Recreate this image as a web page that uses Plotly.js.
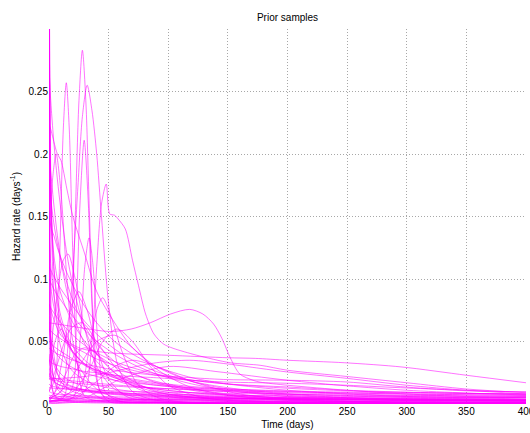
<!DOCTYPE html>
<html>
<head>
<meta charset="utf-8">
<script src="https://cdn.plot.ly/plotly-3.0.1.min.js"></script>
<style>html,body{margin:0;padding:0;background:#fff;}#chart{width:530px;height:433px;}</style>
</head>
<body>
<div id="chart"></div>
<script>
// ---- Data ----
const xTicks = [0, 50, 100, 150, 200, 250, 300, 350, 400];
const yTicks = [0, 0.05, 0.1, 0.15, 0.2, 0.25];
const yTickText = ['0', '0.05', '0.1', '0.15', '0.2', '0.25'];

// common time grid (days) for the monotone-decreasing samples
const gridX = [0,1,2,4,7,10,15,20,30,40,55,70,90,120,150,200,250,300,350,400];

const d01 = [0.60,0.12,0.07,0.04,0.025,0.018,0.013,0.010,0.007,0.0055,0.0045,0.004,0.0035,0.003,0.0027,0.0023,0.002,0.0018,0.0017,0.0016];
const d02 = [0.45,0.20,0.14,0.09,0.06,0.045,0.033,0.026,0.019,0.015,0.012,0.010,0.0085,0.007,0.006,0.005,0.0045,0.004,0.0037,0.0035];
const d03 = [0.224,0.221,0.218,0.21,0.20,0.195,0.172,0.15,0.12,0.09,0.065,0.045,0.03,0.018,0.012,0.007,0.005,0.004,0.003,0.0025];
const d04 = [0.27,0.25,0.235,0.21,0.18,0.155,0.12,0.095,0.06,0.04,0.025,0.017,0.011,0.007,0.005,0.003,0.002,0.0015,0.001,0.001];
const d05 = [0.15,0.145,0.14,0.135,0.125,0.117,0.105,0.095,0.078,0.065,0.05,0.04,0.03,0.021,0.016,0.011,0.008,0.006,0.005,0.004];
const d06 = [0.12,0.10,0.09,0.078,0.066,0.058,0.048,0.041,0.032,0.027,0.022,0.019,0.016,0.013,0.011,0.009,0.008,0.007,0.0065,0.006];
const d07 = [0.10,0.098,0.096,0.092,0.087,0.083,0.076,0.070,0.059,0.050,0.040,0.032,0.024,0.016,0.011,0.006,0.004,0.0025,0.0015,0.001];
const d08 = [0.09,0.06,0.045,0.032,0.024,0.02,0.016,0.014,0.011,0.0095,0.008,0.007,0.006,0.005,0.0045,0.004,0.0035,0.003,0.003,0.0028];
const d09 = [0.08,0.078,0.076,0.073,0.069,0.065,0.06,0.055,0.047,0.041,0.034,0.029,0.024,0.019,0.016,0.0126,0.0105,0.0093,0.0085,0.008];
const d10 = [0.065,0.055,0.05,0.044,0.039,0.036,0.032,0.029,0.025,0.022,0.019,0.017,0.015,0.013,0.012,0.0105,0.0095,0.009,0.0085,0.008];
const d11 = [0.05,0.049,0.048,0.046,0.044,0.042,0.039,0.036,0.031,0.027,0.023,0.02,0.017,0.014,0.012,0.010,0.0088,0.008,0.0074,0.007];
const d12 = [0.04,0.03,0.026,0.022,0.019,0.017,0.015,0.0135,0.0115,0.010,0.009,0.008,0.0072,0.0064,0.0058,0.0052,0.0048,0.0045,0.0042,0.004];
const d13 = [0.035,0.034,0.033,0.032,0.031,0.03,0.029,0.028,0.026,0.025,0.023,0.022,0.021,0.019,0.0175,0.0166,0.015,0.0128,0.011,0.0095];
const d14 = [0.025,0.022,0.02,0.018,0.016,0.015,0.0135,0.0125,0.011,0.01,0.009,0.0085,0.008,0.0075,0.007,0.0065,0.006,0.0058,0.0056,0.0054];
const d15 = [0.02,0.02,0.0195,0.019,0.0185,0.018,0.0175,0.017,0.016,0.0152,0.0143,0.0135,0.0126,0.0116,0.0108,0.0097,0.0088,0.008,0.0074,0.0068];
const d16 = [0.5,0.08,0.04,0.02,0.012,0.009,0.006,0.005,0.0035,0.0028,0.0022,0.0018,0.0015,0.0012,0.001,0.0008,0.0007,0.0006,0.0005,0.0005];
const d17 = [0.40,0.22,0.16,0.11,0.08,0.065,0.05,0.042,0.032,0.026,0.021,0.018,0.015,0.012,0.01,0.008,0.0068,0.006,0.0054,0.005];
const d18 = [0.18,0.17,0.16,0.145,0.128,0.115,0.097,0.083,0.062,0.048,0.034,0.025,0.017,0.011,0.007,0.0035,0.002,0.001,0.0006,0.0004];
const d19 = [0.013,0.013,0.0128,0.0126,0.0124,0.0122,0.012,0.0118,0.0114,0.011,0.0105,0.0101,0.0096,0.009,0.0085,0.0078,0.0072,0.0067,0.0063,0.006];
const d20 = [0.01,0.0095,0.009,0.0085,0.008,0.0077,0.0073,0.007,0.0065,0.0062,0.0058,0.0055,0.0052,0.0049,0.0046,0.0043,0.004,0.0038,0.0036,0.0034];
const d21 = [0.007,0.0068,0.0066,0.0064,0.0062,0.006,0.0058,0.0056,0.0053,0.0051,0.0048,0.0046,0.0044,0.0041,0.0039,0.0036,0.0034,0.0032,0.003,0.0029];
const d22 = [0.005,0.0049,0.0048,0.0047,0.0046,0.0045,0.0044,0.0043,0.0041,0.004,0.0038,0.0036,0.0035,0.0033,0.0031,0.0029,0.0027,0.0026,0.0025,0.0024];
const d23 = [0.55,0.05,0.02,0.008,0.004,0.003,0.002,0.0015,0.001,0.0008,0.0007,0.0006,0.0005,0.0004,0.0004,0.0003,0.0003,0.0003,0.0002,0.0002];
const d24 = [0.14,0.12,0.105,0.088,0.072,0.062,0.05,0.042,0.031,0.025,0.019,0.015,0.012,0.009,0.0075,0.006,0.005,0.0043,0.0038,0.0034];
const d25 = [0.2,0.19,0.18,0.16,0.135,0.115,0.09,0.072,0.048,0.034,0.022,0.015,0.0095,0.0055,0.0035,0.0018,0.001,0.0006,0.0004,0.0003];
const d26 = [0.11,0.108,0.106,0.102,0.097,0.092,0.085,0.078,0.066,0.056,0.044,0.035,0.026,0.018,0.013,0.008,0.005,0.0035,0.0025,0.0018];
const d27 = [0.06,0.059,0.058,0.056,0.054,0.052,0.049,0.046,0.041,0.036,0.031,0.027,0.023,0.019,0.016,0.0136,0.011,0.0095,0.0085,0.0078];
const d28 = [0.35,0.20,0.15,0.11,0.085,0.07,0.055,0.046,0.035,0.028,0.021,0.016,0.012,0.009,0.007,0.005,0.004,0.0035,0.003,0.0027];
const d29 = [0.045,0.044,0.043,0.042,0.04,0.039,0.037,0.035,0.032,0.03,0.027,0.025,0.023,0.021,0.0195,0.019,0.0176,0.0135,0.0105,0.0098];
const d30 = [0.3,0.03,0.015,0.008,0.005,0.004,0.003,0.0025,0.002,0.0017,0.0015,0.0013,0.0012,0.001,0.0009,0.0008,0.0007,0.0006,0.0006,0.0005];
const d31 = [0.0,0.0001,0.0003,0.0006,0.001,0.0013,0.0017,0.002,0.0025,0.0028,0.0032,0.0035,0.0038,0.0041,0.0043,0.0046,0.0048,0.005,0.0051,0.0052];
const d32 = [0.003,0.003,0.0029,0.0029,0.0028,0.0028,0.0027,0.0027,0.0026,0.0025,0.0024,0.0023,0.0022,0.0021,0.002,0.0019,0.0018,0.0017,0.0016,0.0016];
const d33 = [0.25,0.06,0.035,0.02,0.014,0.011,0.0085,0.007,0.0055,0.0046,0.0038,0.0033,0.0029,0.0025,0.0022,0.0019,0.0017,0.0016,0.0015,0.0014];
const d34 = [0.016,0.015,0.0145,0.014,0.0133,0.0127,0.012,0.0113,0.0102,0.0093,0.0083,0.0075,0.0066,0.0056,0.0049,0.004,0.0033,0.0028,0.0024,0.0021];
const d35 = [0.03,0.025,0.022,0.019,0.016,0.0145,0.0128,0.0115,0.0098,0.0087,0.0075,0.0067,0.006,0.0052,0.0047,0.0041,0.0036,0.0033,0.003,0.0028];
const d36 = [0.07,0.05,0.042,0.034,0.028,0.024,0.02,0.0175,0.014,0.0118,0.0097,0.0083,0.0071,0.0059,0.0051,0.0043,0.0037,0.0033,0.003,0.0027];
const d37 = [0.0015,0.0015,0.0015,0.0015,0.0015,0.0015,0.0015,0.0015,0.0014,0.0014,0.0014,0.0014,0.0013,0.0013,0.0013,0.0012,0.0012,0.0012,0.0011,0.0011];
const d38 = [0.0,0.0,0.0001,0.0002,0.0004,0.0006,0.0009,0.0012,0.0018,0.0022,0.0027,0.003,0.0033,0.0035,0.0036,0.0036,0.0035,0.0034,0.0033,0.0032];
const d39 = [0.35,0.2,0.15,0.12,0.1,0.088,0.075,0.065,0.05,0.04,0.03,0.024,0.018,0.012,0.008,0.0045,0.0025,0.0014,0.0008,0.0005];
const d40 = [0.022,0.0215,0.021,0.0205,0.02,0.0195,0.019,0.0185,0.0175,0.0166,0.0153,0.0142,0.0128,0.0112,0.0098,0.0079,0.0064,0.0052,0.0043,0.0036];

// samples with a hump (own time points)
const hA_x = [0,12,18,22,25,28,31,34,38,44,60,100,200,400];
const hA_y = [0.001,0.005,0.05,0.15,0.24,0.283,0.24,0.15,0.05,0.008,0.002,0.001,0.0005,0.0003];
const hB_x = [0,5,9,12,14.5,17,20,24,30,45,100,400];
const hB_y = [0.01,0.02,0.12,0.22,0.257,0.22,0.12,0.03,0.006,0.002,0.001,0.0005];
const hC_x = [0,10,18,24,28,32,36,40,44,50,58,70,90,150,400];
const hC_y = [0.005,0.01,0.08,0.17,0.23,0.255,0.235,0.2,0.15,0.08,0.03,0.01,0.003,0.001,0.0004];
const hD_x = [0,18,23,26,29.5,33,36,41,50,80,400];
const hD_y = [0.002,0.01,0.08,0.16,0.211,0.16,0.08,0.015,0.002,0.001,0.0004];
const hE_x = [0,20,30,36,40,44,48,51,55,58,64,70,75,81,88,96,104,124,152,177,200,250,300,350,400];
const hE_y = [0.005,0.004,0.01,0.05,0.11,0.16,0.176,0.152,0.151,0.148,0.14,0.115,0.095,0.072,0.056,0.048,0.0446,0.039,0.033,0.031,0.027,0.022,0.017,0.012,0.009];
const hF_x = [0,20,51,69,85,102,118,129,138,145,152,160,171,177,200,250,300,350,400];
const hF_y = [0.065,0.062,0.058,0.06,0.065,0.072,0.0757,0.072,0.064,0.0525,0.037,0.024,0.019,0.0175,0.015,0.011,0.008,0.006,0.005];
const hG_x = [0,10,25,50,100,150,173,200,248,296,350,400];
const hG_y = [0.08,0.055,0.045,0.041,0.039,0.037,0.0365,0.035,0.033,0.0296,0.023,0.017];
const hH_x = [0,30,50,68,90,118,150,177,200,250,300,350,400];
const hH_y = [0.02,0.022,0.025,0.029,0.033,0.035,0.032,0.0285,0.0256,0.0205,0.015,0.011,0.008];
const hJ_x = [0,20,26,30,33.6,37,41,47,60,100,400];
const hJ_y = [0.003,0.005,0.05,0.11,0.133,0.11,0.05,0.01,0.002,0.001,0.0005];
const b1_x = [0,20,35,45,57,70,85,100,130,170,400];
const b1_y = [0.004,0.01,0.03,0.05,0.06,0.05,0.03,0.015,0.005,0.002,0.0005];
const b2_x = [0,5,12,18,25,32,40,50,65,90,400];
const b2_y = [0.005,0.01,0.04,0.075,0.09,0.075,0.045,0.02,0.006,0.002,0.0004];
const b4_x = [0,5,10,16,25,40,60,100,400];
const b4_y = [0.02,0.05,0.06,0.05,0.03,0.012,0.004,0.001,0.0003];
const b5_x = [0,20,40,55,70,90,120,160,220,400];
const b5_y = [0.002,0.005,0.018,0.03,0.035,0.03,0.018,0.008,0.003,0.001];
const b6_x = [0,12,22,30,40,55,75,100,150,400];
const b6_y = [0.002,0.02,0.04,0.045,0.04,0.025,0.012,0.006,0.002,0.0006];
const b7_x = [0,6,12,16,22,30,40,55,80,400];
const b7_y = [0.03,0.08,0.115,0.12,0.1,0.06,0.03,0.012,0.004,0.0005];
const b8_x = [0,25,33,40,45,52,62,75,95,400];
const b8_y = [0.002,0.01,0.04,0.075,0.085,0.07,0.04,0.015,0.004,0.0004];
const b9_x = [0,30,60,100,140,200,250,300,350,400];
const b9_y = [0.002,0.005,0.02,0.03,0.026,0.019,0.0145,0.011,0.0088,0.0072];
const b10_x = [0,3,6,10,15,20,30,45,100,400];
const b10_y = [0.12,0.18,0.2,0.17,0.1,0.05,0.015,0.004,0.001,0.0003];
const b11_x = [0,10,25,40,55,70,90,120,180,400];
const b11_y = [0.004,0.01,0.03,0.05,0.055,0.045,0.028,0.013,0.004,0.0008];
const b12_x = [0,8,18,28,40,60,90,150,400];
const b12_y = [0.01,0.035,0.06,0.065,0.05,0.025,0.01,0.003,0.0006];

// ---- Build traces ----
const decay = [d01,d02,d03,d04,d05,d06,d07,d08,d09,d10,d11,d12,d13,d14,d15,d16,d17,d18,d19,d20,
               d21,d22,d23,d24,d25,d26,d27,d28,d29,d30,d31,d32,d33,d34,d35,d36,d37,d38,d39,d40];
const humps = [[hA_x,hA_y],[hB_x,hB_y],[hC_x,hC_y],[hD_x,hD_y],[hE_x,hE_y],[hF_x,hF_y],[hG_x,hG_y],
               [hH_x,hH_y],[hJ_x,hJ_y],[b1_x,b1_y],[b2_x,b2_y],[b4_x,b4_y],[b5_x,b5_y],[b6_x,b6_y],
               [b7_x,b7_y],[b8_x,b8_y],[b9_x,b9_y],[b10_x,b10_y],[b11_x,b11_y],[b12_x,b12_y]];

const lineStyle = {color: '#ff00ff', width: 1, shape: 'spline', smoothing: 0.8};
const traces = [];
decay.forEach(ys => traces.push({x: gridX, y: ys, type: 'scatter', mode: 'lines', line: lineStyle, opacity: 0.55, hoverinfo: 'skip'}));
humps.forEach(([xs, ys]) => traces.push({x: xs, y: ys, type: 'scatter', mode: 'lines', line: lineStyle, opacity: 0.55, hoverinfo: 'skip'}));

const font = {family: '"Liberation Sans", Arial, Helvetica, sans-serif', size: 10, color: '#000'};
const layout = {
  width: 530, height: 433,
  margin: {l: 49, r: 4, t: 28.5, b: 29.3, pad: 0},
  paper_bgcolor: '#fff', plot_bgcolor: '#fff',
  showlegend: false,
  font: font,
  title: {text: 'Prior samples', font: {family: font.family, size: 10, color: '#000'},
          x: 0.5, xref: 'paper', xanchor: 'center', y: 1 - 17/433, yref: 'container', yanchor: 'middle'},
  xaxis: {
    range: [0, 400], tickvals: xTicks, ticktext: xTicks.map(String),
    showgrid: true, gridcolor: '#a8a8a8', gridwidth: 1, griddash: '1px,2px',
    zeroline: false, showline: false, ticks: '', ticklen: 0,
    ticklabeloverflow: 'allow',
    tickfont: font,
    title: {text: 'Time (days)', font: font, standoff: 4}
  },
  yaxis: {
    range: [0, 0.3], tickvals: yTicks, ticktext: yTickText,
    showgrid: true, gridcolor: '#a8a8a8', gridwidth: 1, griddash: '1px,2px',
    zeroline: false, showline: false, ticks: '', ticklen: 0,
    tickfont: font,
    title: {text: 'Hazard rate (days<sup>-1</sup>)', font: font, standoff: 6}
  }
};
Plotly.newPlot('chart', traces, layout, {staticPlot: true, displayModeBar: false});
</script>
</body>
</html>
